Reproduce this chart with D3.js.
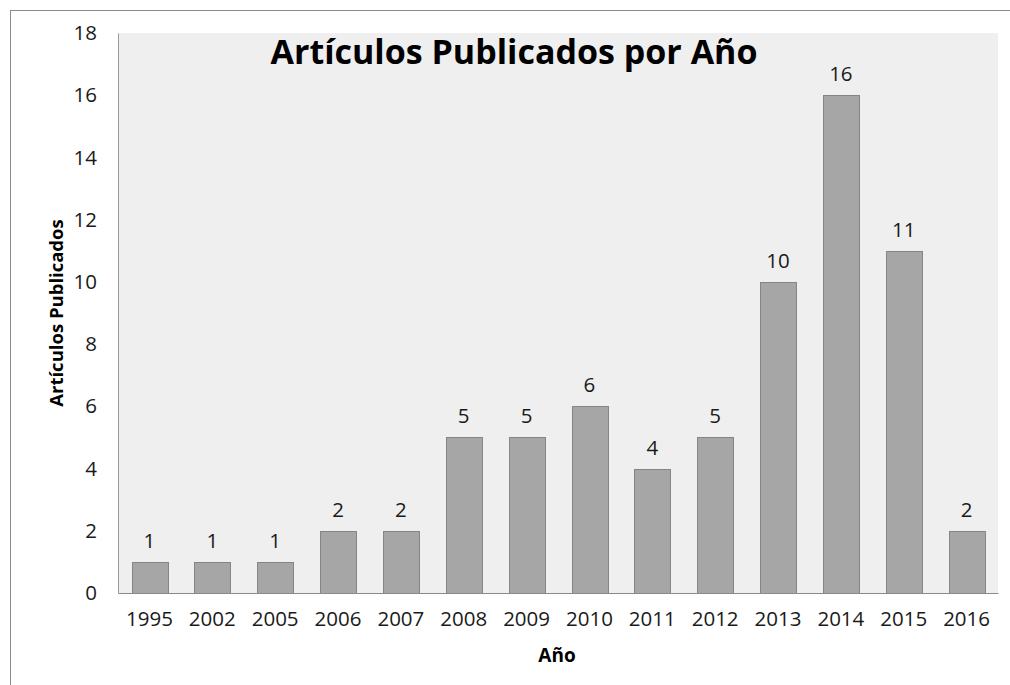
<!DOCTYPE html>
<html>
<head>
<meta charset="utf-8">
<script src="https://cdn.jsdelivr.net/npm/d3@7"></script>
<style>
  html, body { margin: 0; padding: 0; background: #ffffff; }
  svg { display: block; }
</style>
</head>
<body>
<svg id="chart" width="1010" height="685"></svg>
<script>
// Publications per year
const years = ["1995", "2002", "2005", "2006", "2007", "2008", "2009", "2010", "2011", "2012", "2013", "2014", "2015", "2016"];
const articles = [1, 1, 1, 2, 2, 5, 5, 6, 4, 5, 10, 16, 11, 2];
const yTicks = [0, 2, 4, 6, 8, 10, 12, 14, 16, 18];

const titleText = "Artículos Publicados por Año";
const xTitle = "Año";
const yTitle = "Artículos Publicados";

const W = 1010, H = 685;
const plot = { left: 118, top: 33, right: 998, bottom: 593 };
const FONT = "'Open Sans', 'DejaVu Sans', sans-serif";
const TICK_SIZE = 20.5;

const svg = d3.select("#chart");

// outer frame
svg.append("rect")
  .attr("x", 10.5).attr("y", 10.5)
  .attr("width", W).attr("height", H)
  .attr("fill", "#ffffff")
  .attr("stroke", "#8a8a8a").attr("stroke-width", 1);

const x = d3.scaleBand()
  .domain(years)
  .range([plot.left, plot.right])
  .paddingInner(0.43)
  .paddingOuter(0.215);

const y = d3.scaleLinear()
  .domain([0, 18])
  .range([plot.bottom, plot.top]);

// plot area background
svg.append("rect")
  .attr("x", plot.left).attr("y", plot.top)
  .attr("width", plot.right - plot.left)
  .attr("height", plot.bottom - plot.top)
  .attr("fill", "#efefef");

// bars
svg.append("g").selectAll("rect")
  .data(years)
  .join("rect")
  .attr("x", d => Math.round(x(d)) + 0.5)
  .attr("y", (d, i) => Math.round(y(articles[i])) + 0.5)
  .attr("width", Math.round(x.bandwidth()))
  .attr("height", (d, i) => Math.round(y(0)) - Math.round(y(articles[i])))
  .attr("fill", "#a6a6a6")
  .attr("stroke", "#858585")
  .attr("stroke-width", 1);

// value labels
svg.append("g").selectAll("text")
  .data(years)
  .join("text")
  .attr("x", d => x(d) + x.bandwidth() / 2)
  .attr("y", (d, i) => y(articles[i]) - 14)
  .attr("text-anchor", "middle")
  .attr("font-family", FONT)
  .attr("font-size", TICK_SIZE)
  .attr("fill", "#1a1a1a")
  .text((d, i) => articles[i]);

// y axis
const yAxis = svg.append("g")
  .attr("transform", `translate(${plot.left},0)`)
  .call(d3.axisLeft(y).tickValues(yTicks).tickSize(0).tickPadding(21).tickFormat(d3.format("d")));
yAxis.select(".domain").attr("stroke", "#9a9a9a");
yAxis.selectAll("text")
  .attr("font-family", FONT)
  .attr("font-size", TICK_SIZE)
  .attr("fill", "#1a1a1a");

// x axis
const xAxis = svg.append("g")
  .attr("transform", `translate(0,${plot.bottom})`)
  .call(d3.axisBottom(x).tickSize(0).tickPadding(18));
xAxis.select(".domain").attr("stroke", "#8a8a8a");
xAxis.selectAll("text")
  .attr("font-family", FONT)
  .attr("font-size", TICK_SIZE)
  .attr("fill", "#1a1a1a");

// chart title
svg.append("text")
  .attr("x", 514)
  .attr("y", 64)
  .attr("text-anchor", "middle")
  .attr("font-family", FONT)
  .attr("font-weight", "bold")
  .attr("font-size", 34)
  .attr("fill", "#000000")
  .text(titleText);

// axis titles
svg.append("text")
  .attr("x", 557)
  .attr("y", 662)
  .attr("text-anchor", "middle")
  .attr("font-family", FONT)
  .attr("font-weight", "bold")
  .attr("font-size", 19)
  .attr("fill", "#000000")
  .text(xTitle);

svg.append("text")
  .attr("transform", `translate(63,${(plot.top + plot.bottom) / 2}) rotate(-90)`)
  .attr("text-anchor", "middle")
  .attr("font-family", FONT)
  .attr("font-weight", "bold")
  .attr("font-size", 18.5)
  .attr("fill", "#000000")
  .text(yTitle);
</script>
</body>
</html>
